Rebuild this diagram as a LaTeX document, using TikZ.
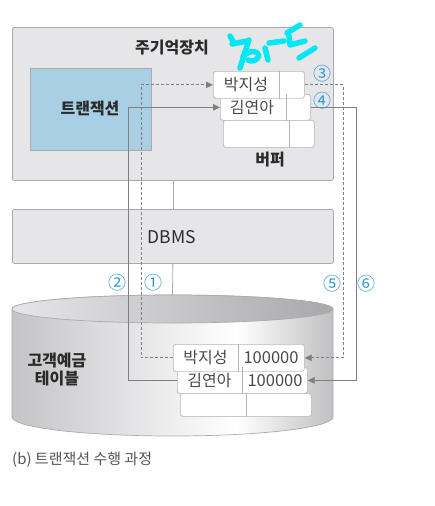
\documentclass[tikz,border=0pt]{standalone}
\usepackage{fontspec}
\setmainfont{Noto Sans CJK KR}
\usetikzlibrary{arrows.meta,calc}
\definecolor{memfill}{HTML}{E6E6E9}
\definecolor{boxline}{HTML}{ABABAE}
\definecolor{txblue}{HTML}{A8CFE4}
\definecolor{circ}{HTML}{2E9AD0}
\definecolor{flow}{HTML}{808080}
\definecolor{txt}{HTML}{2B2B2B}
\definecolor{celltxt}{HTML}{4A4A4A}
\definecolor{capt}{HTML}{555555}
\definecolor{scrib}{RGB}{0,232,245}
\definecolor{cylA}{HTML}{C4C4C6}
\definecolor{cylB}{HTML}{E6E6E8}
\definecolor{cylC}{HTML}{C0C0C2}
\pgfdeclarehorizontalshading{cylbody}{100bp}{color(0bp)=(cylA); color(25bp)=(cylA); color(45bp)=(cylB); color(60bp)=(white); color(75bp)=(cylC); color(100bp)=(cylC)}
\begin{document}
\begin{tikzpicture}[x=1pt,y=-1pt,
  membox/.style={draw=boxline, fill=memfill, rounded corners=2pt, line width=0.8pt, anchor=north west, inner sep=0pt},
  txbox/.style={draw=boxline, fill=txblue, line width=0.8pt, anchor=north west, inner sep=0pt},
  cell/.style={draw=boxline!80, fill=white, rounded corners=2.5pt, line width=0.7pt, anchor=north west, inner sep=0pt},
  divline/.style={draw=boxline!90, line width=0.7pt},
  celltext/.style={text=celltxt, font=\fontsize{16}{18}\selectfont, inner sep=0pt},
  numtext/.style={text=celltxt, font=\fontsize{16.5}{18}\selectfont, inner sep=0pt},
  title/.style={text=txt, font=\fontsize{16}{19}\selectfont\bfseries, inner sep=0pt, align=center},
  circnum/.style={text=circ, font=\fontsize{18}{20}\selectfont, inner sep=0pt},
  vline/.style={draw=boxline, line width=0.8pt},
  sflow/.style={draw=flow, line width=0.9pt, -{Triangle[length=7pt,width=6.5pt]}},
  dflow/.style={draw=flow, line width=0.9pt, dash pattern=on 3pt off 2pt, -{Triangle[length=7pt,width=6.5pt]}},
  scribble/.style={draw=scrib, line width=5.5pt, line cap=round, line join=round}
]
\useasboundingbox (0,0) rectangle (434,506);

% main memory
\node[membox, minimum width=321pt, minimum height=153pt] (mem) at (12,27) {};
\node[title] (memt) at (172,48) {주기억장치};
\node[txbox, minimum width=121pt, minimum height=82pt] (tx) at (30,68) {};
\node[title] (txt) at (90,109) {트랜잭션};

% DBMS
\node[membox, minimum width=321pt, minimum height=54pt] (dbms) at (12,209) {};
\node[text=txt, font=\fontsize{17.5}{19}\selectfont, inner sep=0pt] (dbmst) at (172,237) {DBMS};

% cylinder
\coordinate (cyltop) at (172.5,295);
\path[shading=cylbody, draw=boxline, line width=0.7pt]
  (12,309) -- (12,417) arc[start angle=180, end angle=360, x radius=160.5pt, y radius=19pt]
  -- (333,309) arc[start angle=0, end angle=180, x radius=160.5pt, y radius=14pt] -- cycle;
\path[left color=cylB, right color=cylC!88!black, draw=boxline, line width=0.7pt]
  (172.5,309) ellipse [x radius=160.5pt, y radius=14pt];
\node[title] (tbl) at (57,370) {고객예금\\[-1pt]테이블};

% vertical link lines
\draw[vline] (mem.south) -- (dbms.north);
\draw[vline] (dbms.south) -- (cyltop);

% connector x positions
\coordinate (lx2) at (128,0);
\coordinate (lx1) at (141,0);
\coordinate (rx1) at (343,0);
\coordinate (rx2) at (356,0);

% DB table rows (nodes)
\node[cell, minimum width=131pt, minimum height=23pt] (d3) at (180,393) {};
\node[cell, minimum width=130pt, minimum height=26pt] (d2) at (177,367) {};
\node[cell, minimum width=131pt, minimum height=27pt] (d1) at (173,344) {};

% buffer rows (nodes)
\node[cell, minimum width=91pt, minimum height=27pt] (b3) at (223,120) {};
\node[cell, minimum width=90pt, minimum height=26pt] (b2) at (220,94) {};
\node[cell, minimum width=91pt, minimum height=27pt] (b1) at (213,71) {};

% connectors
\draw[dflow] (b1.east) -| (rx1 |- d1.east) -- (d1.east);
\draw[dflow] (d1.west) -- (lx1 |- d1.west) |- (b1.west);
\draw[sflow] (b2.east) -| (rx2 |- d2.east) -- (d2.east);
\draw[sflow] (d2.west) -- (lx2 |- d2.west) |- (b2.west);

% redraw cells on top of connector ends
\node[cell, minimum width=131pt, minimum height=23pt] (d3c) at (180,393) {};
\node[cell, minimum width=130pt, minimum height=26pt] (d2c) at (177,367) {};
\node[cell, minimum width=131pt, minimum height=27pt] (d1c) at (173,344) {};
\draw[divline] ($(d3.north west)+(66,0)$) -- ($(d3.south west)+(66,0)$);
\draw[divline] ($(d2.north west)+(65,0)$) -- ($(d2.south west)+(65,0)$);
\draw[divline] ($(d1.north west)+(65,0)$) -- ($(d1.south west)+(65,0)$);
\node[cell, minimum width=91pt, minimum height=27pt] (b3c) at (223,120) {};
\node[cell, minimum width=90pt, minimum height=26pt] (b2c) at (220,94) {};
\node[cell, minimum width=91pt, minimum height=27pt] (b1c) at (213,71) {};
\draw[divline] ($(b3.north west)+(66,0)$) -- ($(b3.south west)+(66,0)$);
\draw[divline] ($(b2.north west)+(66,0)$) -- ($(b2.south west)+(66,0)$);
\draw[divline] ($(b1.north west)+(66,0)$) -- ($(b1.south west)+(66,0)$);

% cell texts
\node[celltext] (b1n) at (246,85) {박지성};
\node[celltext] (b2n) at (252,108) {김연아};
\node[celltext] (d1n) at (205.5,357.5) {박지성};
\node[numtext] (d1v) at (271,358) {100000};
\node[celltext] (d2n) at (209.5,380.5) {김연아};
\node[numtext] (d2v) at (275,381) {100000};
\node[title] (buf) at (270,160) {버퍼};

% circled numbers
\node[circnum] (c3) at (322,74) {③};
\node[circnum] (c4) at (322,101) {④};
\node[circnum] (c2) at (117,283) {②};
\node[circnum] (c1) at (153,283) {①};
\node[circnum] (c5) at (332,284) {⑤};
\node[circnum] (c6) at (366,284) {⑥};

% caption
\node[text=capt, font=\fontsize{15}{17}\selectfont, anchor=west, inner sep=0pt] (cap) at (12,460) {(b) 트랜잭션 수행 과정};

% handwritten scribble
\draw[scribble] (230,36) -- (233,41);
\draw[scribble] (232,44) .. controls (240,43) .. (247,41);
\draw[scribble] (249,40) .. controls (245,52) .. (240,68);
\draw[scribble] (243,56) .. controls (250,50) and (258,50) .. (259,56) .. controls (257,61) and (251,62) .. (248,60);
\draw[scribble] (265,48) -- (268,60);
\draw[scribble] (269,43) -- (284,41);
\draw[scribble] (287,33) -- (300,25);
\draw[scribble] (289,36) -- (290,45) -- (305,41);
\draw[scribble] (299,58) -- (315,48);
\end{tikzpicture}
\end{document}
